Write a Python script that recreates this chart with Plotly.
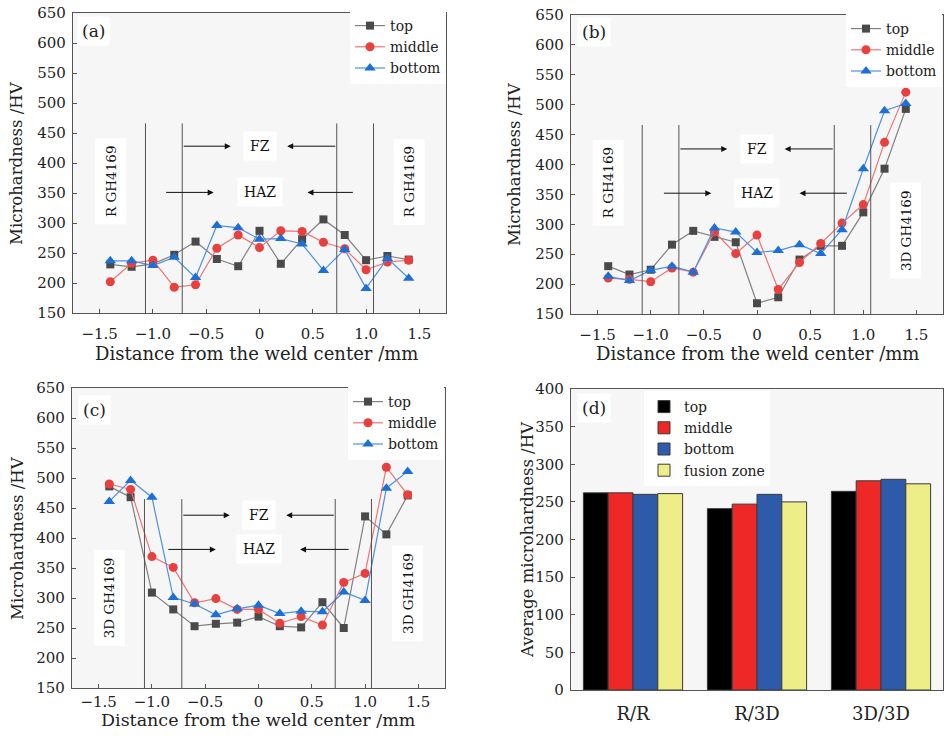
import plotly.graph_objects as go

# ---------------- data ----------------
x_pos = [-1.4, -1.2, -1.0, -0.8, -0.6, -0.4, -0.2, 0.0, 0.2, 0.4, 0.6, 0.8, 1.0, 1.2, 1.4]

a_top = [231, 227, 232, 247, 269, 240, 228, 287, 232, 273, 306, 280, 238, 245, 239]
a_mid = [202, 233, 238, 193, 197, 258, 280, 259, 287, 286, 268, 257, 222, 235, 238]
a_bot = [237, 237, 229, 243, 209, 296, 292, 273, 274, 265, 221, 256, 191, 241, 208]

b_top = [230, 216, 224, 266, 289, 279, 270, 168, 178, 241, 264, 264, 320, 393, 493]
b_mid = [210, 208, 204, 227, 220, 287, 251, 282, 191, 236, 268, 302, 333, 437, 521]
b_bot = [213, 206, 223, 230, 220, 294, 287, 253, 256, 266, 251, 291, 393, 490, 502]

c_top = [486, 468, 309, 281, 253, 257, 259, 269, 253, 251, 293, 250, 436, 406, 471]
c_mid = [490, 481, 369, 351, 292, 299, 281, 281, 258, 269, 255, 326, 341, 518, 472]
c_bot = [461, 496, 468, 301, 290, 272, 282, 288, 274, 278, 277, 310, 296, 483, 511]

d_groups = ["R/R", "R/3D", "3D/3D"]
d_top = [262, 241, 264]
d_mid = [262, 247, 278]
d_bot = [260, 260, 280]
d_fz = [261, 250, 274]

line_x_ticks = [-1.5, -1.0, -0.5, 0, 0.5, 1.0, 1.5]
line_x_labels = ["\u22121.5", "\u22121.0", "\u22120.5", "0", "0.5", "1.0", "1.5"]
hv_ticks = [150, 200, 250, 300, 350, 400, 450, 500, 550, 600, 650]
avg_ticks = [0, 50, 100, 150, 200, 250, 300, 350, 400]

# zone boundaries (mm) for each panel: outer (base metal / HAZ), inner (HAZ / FZ)
zones = {
    "a": dict(outer=[-1.07, 1.07], inner=[-0.725, 0.725], top=466, fz_y=428, haz_y=351,
              fz_tip=[-0.27, 0.26], haz_from=[-0.89, 0.89], haz_tip=[-0.43, 0.45],
              left_lbl="R GH4169", right_lbl="R GH4169", left_y=369, right_y=369),
    "b": dict(outer=[-1.08, 1.07], inner=[-0.735, 0.727], top=466, fz_y=426, haz_y=352,
              fz_tip=[-0.28, 0.26], haz_from=[-0.89, 0.86], haz_tip=[-0.43, 0.40],
              left_lbl="R GH4169", right_lbl="3D GH4169", left_y=369, right_y=290),
    "c": dict(outer=[-1.07, 1.06], inner=[-0.72, 0.72], top=465, fz_y=438, haz_y=381,
              fz_tip=[-0.27, 0.26], haz_from=[-0.86, 0.86], haz_tip=[-0.40, 0.39],
              left_lbl="3D GH4169", right_lbl="3D GH4169", left_y=300, right_y=308),
}

# ---------------- style ----------------
FONT = "DejaVu Serif"
W, H = 945, 740
GRAY_M, GRAY_L = "#4a4a4a", "#808080"
RED_M, RED_L = "#e8403f", "#ef7474"
BLUE_M, BLUE_L = "#1c6fd6", "#4f8fe2"
PLOT_BG = "#f6f6f6"
FRAME = "#555555"


def px(xp):
    return xp / W


def py(yp):
    return 1 - yp / H


fig = go.Figure()

panels = [
    ("a", "x", "y", "legend", a_top, a_mid, a_bot),
    ("b", "x2", "y2", "legend2", b_top, b_mid, b_bot),
    ("c", "x3", "y3", "legend3", c_top, c_mid, c_bot),
]

for key, xa, ya, lg, tops, mids, bots in panels:
    fig.add_trace(go.Scatter(x=x_pos, y=tops, name="top", mode="lines+markers", xaxis=xa, yaxis=ya,
                             legend=lg, line=dict(color=GRAY_L, width=1.2),
                             marker=dict(symbol="square", size=8, color=GRAY_M)))
    fig.add_trace(go.Scatter(x=x_pos, y=mids, name="middle", mode="lines+markers", xaxis=xa, yaxis=ya,
                             legend=lg, line=dict(color=RED_L, width=1.2),
                             marker=dict(symbol="circle", size=9, color=RED_M)))
    fig.add_trace(go.Scatter(x=x_pos, y=bots, name="bottom", mode="lines+markers", xaxis=xa, yaxis=ya,
                             legend=lg, line=dict(color=BLUE_L, width=1.2),
                             marker=dict(symbol="triangle-up", size=10, color=BLUE_M)))

bar_specs = [("top", d_top, "#000000"), ("middle", d_mid, "#ee2727"),
             ("bottom", d_bot, "#2e5ba9"), ("fusion zone", d_fz, "#eeee88")]
for name, vals, col in bar_specs:
    fig.add_trace(go.Bar(x=d_groups, y=vals, name=name, xaxis="x4", yaxis="y4", legend="legend4",
                         marker=dict(color=col, line=dict(color="#3a3a3a", width=1))))

# ---------------- axes ----------------
dom = {
    "a": ([73, 446], [13, 313]),
    "b": ([571, 943], [15, 314]),
    "c": ([72, 445], [388, 688]),
    "d": ([571, 943], [389, 690]),
}

common_axis = dict(showline=True, linecolor=FRAME, linewidth=1.2, mirror=True, showgrid=False,
                   zeroline=False, ticks="inside", ticklen=4, tickcolor=FRAME, automargin=False,
                   ticklabeloverflow="allow",
                   tickfont=dict(family=FONT, size=15, color="#222"))

layout = dict(template="none", width=W, height=H,
              margin=dict(l=0, r=0, t=0, b=0, pad=0, autoexpand=False), paper_bgcolor="white",
              plot_bgcolor=PLOT_BG, font=dict(family=FONT, color="#222"), barmode="group",
              bargap=0.2, bargroupgap=0.0)

axis_names = {"a": ("xaxis", "yaxis", "y", "x"), "b": ("xaxis2", "yaxis2", "y2", "x2"),
              "c": ("xaxis3", "yaxis3", "y3", "x3"), "d": ("xaxis4", "yaxis4", "y4", "x4")}
x_standoff = {"a": 7, "b": 7, "c": 0}

for key in ["a", "b", "c"]:
    xn, yn, yref, xref = axis_names[key]
    (x0, x1), (y0, y1) = dom[key]
    layout[xn] = dict(common_axis, domain=[px(x0), px(x1)], anchor=yref, range=[-1.75, 1.75],
                      tickvals=line_x_ticks, ticktext=line_x_labels, ticklabelstandoff=x_standoff[key])
    layout[yn] = dict(common_axis, domain=[py(y1), py(y0)], anchor=xref, range=[150, 650],
                      tickvals=hv_ticks, ticklabelstandoff=3)

(x0, x1), (y0, y1) = dom["d"]
layout["xaxis4"] = dict(common_axis, domain=[px(x0), px(x1)], anchor="y4", ticks="",
                        tickfont=dict(family=FONT, size=18, color="#222"), ticklabelstandoff=7)
layout["yaxis4"] = dict(common_axis, domain=[py(y1), py(y0)], anchor="x4", range=[0, 400],
                        tickvals=avg_ticks, ticklabelstandoff=3)

legend_common = dict(bgcolor="white", borderwidth=0, font=dict(family=FONT, size=14, color="#222"),
                     xanchor="right", yanchor="top", tracegroupgap=0, itemwidth=30)
layout["legend"] = dict(legend_common, x=px(446), y=py(10))
layout["legend2"] = dict(legend_common, x=px(942), y=py(13))
layout["legend3"] = dict(legend_common, x=px(444), y=py(386))
layout["legend4"] = dict(legend_common, xanchor="left", x=px(644), y=py(391))

fig.update_layout(**layout)

# ---------------- decorations ----------------
shapes = []
annotations = []

for key in ["a", "b", "c"]:
    z = zones[key]
    xn, yn, yref, xref = axis_names[key]
    for xv in z["outer"] + z["inner"]:
        shapes.append(dict(type="line", xref=xref, yref=yref, x0=xv, x1=xv, y0=150, y1=z["top"],
                           line=dict(color="#555555", width=1)))
    for start, tip in zip(z["inner"], z["fz_tip"]):
        annotations.append(dict(xref=xref, yref=yref, axref=xref, ayref=yref, x=tip, y=z["fz_y"],
                                ax=start, ay=z["fz_y"], text="", showarrow=True, arrowhead=2,
                                arrowsize=1.2, arrowwidth=1, arrowcolor="#111"))
    for start, tip in zip(z["haz_from"], z["haz_tip"]):
        annotations.append(dict(xref=xref, yref=yref, axref=xref, ayref=yref, x=tip, y=z["haz_y"],
                                ax=start, ay=z["haz_y"], text="", showarrow=True, arrowhead=2,
                                arrowsize=1.2, arrowwidth=1, arrowcolor="#111"))
    annotations.append(dict(xref=xref, yref=yref, x=0, y=z["fz_y"], text="FZ", showarrow=False,
                            xanchor="center", yanchor="middle",
                            font=dict(family=FONT, size=14, color="#111"), bgcolor="white", borderpad=6))
    annotations.append(dict(xref=xref, yref=yref, x=0, y=z["haz_y"], text="HAZ", showarrow=False,
                            xanchor="center", yanchor="middle",
                            font=dict(family=FONT, size=14, color="#111"), bgcolor="white", borderpad=6))
    annotations.append(dict(xref=xref, yref=yref, x=-1.4, y=z["left_y"], text=z["left_lbl"],
                            xanchor="center", yanchor="middle",
                            textangle=-90, showarrow=False, font=dict(family=FONT, size=13.5, color="#111"),
                            bgcolor="white", borderpad=7))
    annotations.append(dict(xref=xref, yref=yref, x=1.4, y=z["right_y"], text=z["right_lbl"],
                            xanchor="center", yanchor="middle",
                            textangle=-90, showarrow=False, font=dict(family=FONT, size=13.5, color="#111"),
                            bgcolor="white", borderpad=7))

# panel labels
for lbl, xp, yp in [("(a)", 93, 31), ("(b)", 594, 32), ("(c)", 94, 410), ("(d)", 594, 408)]:
    annotations.append(dict(xref="paper", yref="paper", x=px(xp), y=py(yp), text=lbl, showarrow=False,
                            xanchor="center", yanchor="middle",
                            font=dict(family=FONT, size=17, color="#222"), bgcolor="white", borderpad=4))

# axis titles
for xp, yp, fs in [(256, 353, 18), (757, 353, 18), (258, 720, 17.5)]:
    annotations.append(dict(xref="paper", yref="paper", x=px(xp), y=py(yp),
                            xanchor="center", yanchor="middle",
                            text="Distance from the weld center /mm", showarrow=False,
                            font=dict(family=FONT, size=fs, color="#222")))
for xp, yp in [(17, 163), (515, 164), (17, 538)]:
    annotations.append(dict(xref="paper", yref="paper", x=px(xp), y=py(yp), text="Microhardness /HV",
                            xanchor="center", yanchor="middle",
                            textangle=-90, showarrow=False, font=dict(family=FONT, size=16.5, color="#222")))
annotations.append(dict(xref="paper", yref="paper", x=px(527), y=py(540), text="Average microhardness /HV",
                        xanchor="center", yanchor="middle",
                        textangle=-90, showarrow=False, font=dict(family=FONT, size=16.5, color="#222")))

fig.update_layout(shapes=shapes, annotations=annotations)

# remove the default page margin so the 945x740 figure fills the window exactly
fig.write_html("out.html", config={"displayModeBar": False},
               post_script="document.body.style.margin='0';document.body.style.overflow='hidden';")
